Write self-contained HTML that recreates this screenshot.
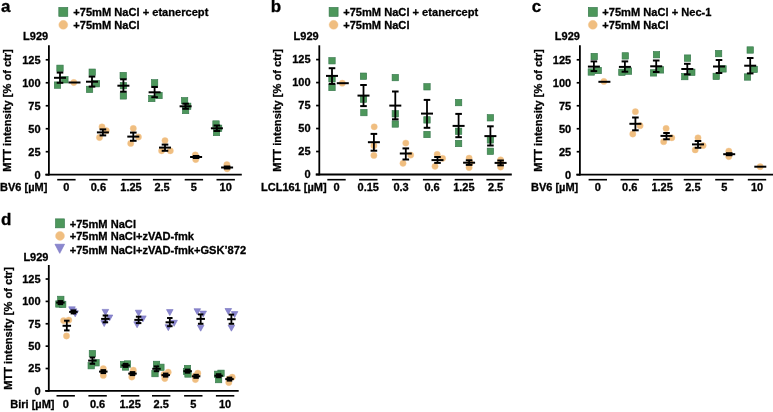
<!DOCTYPE html>
<html><head><meta charset="utf-8"><style>
html,body{margin:0;padding:0;background:#fff;}
body{width:773px;height:412px;overflow:hidden;}
svg{display:block;filter:blur(0.35px);}
</style></head><body>
<svg width="773" height="412" viewBox="0 0 773 412">
<rect width="773" height="412" fill="#fff"/>
<g font-family='"Liberation Sans", sans-serif' font-weight="bold" fill="#000">
<text x="1.00" y="11.50" font-size="17" text-anchor="start" stroke="#000" stroke-width="0.3">a</text>
<rect x="58.80" y="7.40" width="9.00" height="9.00" fill="#4d975b" stroke="#33744a" stroke-width="0.6"/>
<text x="73.30" y="15.70" font-size="11.1" text-anchor="start" stroke="#000" stroke-width="0.3">+75mM NaCl + etanercept</text>
<circle cx="63.30" cy="24.85" r="4.50" fill="#f0be80" stroke="#f3c892" stroke-width="0.4"/>
<text x="73.30" y="28.70" font-size="11.1" text-anchor="start" stroke="#000" stroke-width="0.3">+75mM NaCl</text>
<text x="23.10" y="40.00" font-size="11" text-anchor="start" stroke="#000" stroke-width="0.3">L929</text>
<line x1="48.90" y1="45.30" x2="48.90" y2="175.60" stroke="#000" stroke-width="1.8"/>
<line x1="45.70" y1="174.70" x2="48.90" y2="174.70" stroke="#000" stroke-width="1.7"/>
<text x="40.60" y="178.50" font-size="11" text-anchor="end" stroke="#000" stroke-width="0.3">0</text>
<line x1="45.70" y1="151.72" x2="48.90" y2="151.72" stroke="#000" stroke-width="1.7"/>
<text x="40.60" y="155.52" font-size="11" text-anchor="end" stroke="#000" stroke-width="0.3">25</text>
<line x1="45.70" y1="128.74" x2="48.90" y2="128.74" stroke="#000" stroke-width="1.7"/>
<text x="40.60" y="132.54" font-size="11" text-anchor="end" stroke="#000" stroke-width="0.3">50</text>
<line x1="45.70" y1="105.76" x2="48.90" y2="105.76" stroke="#000" stroke-width="1.7"/>
<text x="40.60" y="109.56" font-size="11" text-anchor="end" stroke="#000" stroke-width="0.3">75</text>
<line x1="45.70" y1="82.78" x2="48.90" y2="82.78" stroke="#000" stroke-width="1.7"/>
<text x="40.60" y="86.58" font-size="11" text-anchor="end" stroke="#000" stroke-width="0.3">100</text>
<line x1="45.70" y1="59.80" x2="48.90" y2="59.80" stroke="#000" stroke-width="1.7"/>
<text x="40.60" y="63.60" font-size="11" text-anchor="end" stroke="#000" stroke-width="0.3">125</text>
<line x1="45.30" y1="174.70" x2="241.80" y2="174.70" stroke="#000" stroke-width="1.8"/>
<text x="0" y="0" font-size="11.1" text-anchor="middle" stroke="#000" stroke-width="0.3" transform="translate(11.20,110.50) rotate(-90)">MTT intensity [% of ctr]</text>
<text x="0.10" y="191.40" font-size="11" text-anchor="start" stroke="#000" stroke-width="0.3">BV6 [µM]</text>
<line x1="57.20" y1="179.70" x2="75.60" y2="179.70" stroke="#000" stroke-width="1.6"/>
<text x="66.40" y="191.40" font-size="11" text-anchor="middle" stroke="#000" stroke-width="0.3">0</text>
<line x1="89.20" y1="179.70" x2="107.60" y2="179.70" stroke="#000" stroke-width="1.6"/>
<text x="98.40" y="191.40" font-size="11" text-anchor="middle" stroke="#000" stroke-width="0.3">0.6</text>
<line x1="121.80" y1="179.70" x2="140.20" y2="179.70" stroke="#000" stroke-width="1.6"/>
<text x="131.00" y="191.40" font-size="11" text-anchor="middle" stroke="#000" stroke-width="0.3">1.25</text>
<line x1="152.90" y1="179.70" x2="171.30" y2="179.70" stroke="#000" stroke-width="1.6"/>
<text x="162.10" y="191.40" font-size="11" text-anchor="middle" stroke="#000" stroke-width="0.3">2.5</text>
<line x1="184.70" y1="179.70" x2="203.10" y2="179.70" stroke="#000" stroke-width="1.6"/>
<text x="193.90" y="191.40" font-size="11" text-anchor="middle" stroke="#000" stroke-width="0.3">5</text>
<line x1="216.50" y1="179.70" x2="234.90" y2="179.70" stroke="#000" stroke-width="1.6"/>
<text x="225.70" y="191.40" font-size="11" text-anchor="middle" stroke="#000" stroke-width="0.3">10</text>
<text x="270.70" y="11.50" font-size="17" text-anchor="start" stroke="#000" stroke-width="0.3">b</text>
<rect x="329.10" y="7.40" width="9.00" height="9.00" fill="#4d975b" stroke="#33744a" stroke-width="0.6"/>
<text x="343.20" y="15.70" font-size="11.1" text-anchor="start" stroke="#000" stroke-width="0.3">+75mM NaCl + etanercept</text>
<circle cx="333.60" cy="24.85" r="4.50" fill="#f0be80" stroke="#f3c892" stroke-width="0.4"/>
<text x="343.20" y="28.70" font-size="11.1" text-anchor="start" stroke="#000" stroke-width="0.3">+75mM NaCl</text>
<text x="293.60" y="40.00" font-size="11" text-anchor="start" stroke="#000" stroke-width="0.3">L929</text>
<line x1="319.30" y1="45.30" x2="319.30" y2="175.40" stroke="#000" stroke-width="1.8"/>
<line x1="316.10" y1="174.50" x2="319.30" y2="174.50" stroke="#000" stroke-width="1.7"/>
<text x="310.60" y="178.30" font-size="11" text-anchor="end" stroke="#000" stroke-width="0.3">0</text>
<line x1="316.10" y1="151.52" x2="319.30" y2="151.52" stroke="#000" stroke-width="1.7"/>
<text x="310.60" y="155.32" font-size="11" text-anchor="end" stroke="#000" stroke-width="0.3">25</text>
<line x1="316.10" y1="128.54" x2="319.30" y2="128.54" stroke="#000" stroke-width="1.7"/>
<text x="310.60" y="132.34" font-size="11" text-anchor="end" stroke="#000" stroke-width="0.3">50</text>
<line x1="316.10" y1="105.56" x2="319.30" y2="105.56" stroke="#000" stroke-width="1.7"/>
<text x="310.60" y="109.36" font-size="11" text-anchor="end" stroke="#000" stroke-width="0.3">75</text>
<line x1="316.10" y1="82.58" x2="319.30" y2="82.58" stroke="#000" stroke-width="1.7"/>
<text x="310.60" y="86.38" font-size="11" text-anchor="end" stroke="#000" stroke-width="0.3">100</text>
<line x1="316.10" y1="59.60" x2="319.30" y2="59.60" stroke="#000" stroke-width="1.7"/>
<text x="310.60" y="63.40" font-size="11" text-anchor="end" stroke="#000" stroke-width="0.3">125</text>
<line x1="315.70" y1="174.50" x2="511.80" y2="174.50" stroke="#000" stroke-width="1.8"/>
<text x="0" y="0" font-size="11.1" text-anchor="middle" stroke="#000" stroke-width="0.3" transform="translate(281.30,110.40) rotate(-90)">MTT intensity [% of ctr]</text>
<text x="261.00" y="191.40" font-size="11" text-anchor="start" stroke="#000" stroke-width="0.3">LCL161 [µM]</text>
<line x1="327.30" y1="179.70" x2="345.70" y2="179.70" stroke="#000" stroke-width="1.6"/>
<text x="336.50" y="191.40" font-size="11" text-anchor="middle" stroke="#000" stroke-width="0.3">0</text>
<line x1="359.10" y1="179.70" x2="377.50" y2="179.70" stroke="#000" stroke-width="1.6"/>
<text x="368.30" y="191.40" font-size="11" text-anchor="middle" stroke="#000" stroke-width="0.3">0.15</text>
<line x1="391.90" y1="179.70" x2="410.30" y2="179.70" stroke="#000" stroke-width="1.6"/>
<text x="401.10" y="191.40" font-size="11" text-anchor="middle" stroke="#000" stroke-width="0.3">0.3</text>
<line x1="422.90" y1="179.70" x2="441.30" y2="179.70" stroke="#000" stroke-width="1.6"/>
<text x="432.10" y="191.40" font-size="11" text-anchor="middle" stroke="#000" stroke-width="0.3">0.6</text>
<line x1="454.70" y1="179.70" x2="473.10" y2="179.70" stroke="#000" stroke-width="1.6"/>
<text x="463.90" y="191.40" font-size="11" text-anchor="middle" stroke="#000" stroke-width="0.3">1.25</text>
<line x1="486.40" y1="179.70" x2="504.80" y2="179.70" stroke="#000" stroke-width="1.6"/>
<text x="495.60" y="191.40" font-size="11" text-anchor="middle" stroke="#000" stroke-width="0.3">2.5</text>
<text x="531.80" y="11.50" font-size="17" text-anchor="start" stroke="#000" stroke-width="0.3">c</text>
<rect x="588.30" y="7.40" width="9.00" height="9.00" fill="#4d975b" stroke="#33744a" stroke-width="0.6"/>
<text x="602.30" y="15.70" font-size="11.1" text-anchor="start" stroke="#000" stroke-width="0.3">+75mM NaCl + Nec-1</text>
<circle cx="592.80" cy="24.85" r="4.50" fill="#f0be80" stroke="#f3c892" stroke-width="0.4"/>
<text x="602.30" y="28.70" font-size="11.1" text-anchor="start" stroke="#000" stroke-width="0.3">+75mM NaCl</text>
<text x="554.80" y="40.00" font-size="11" text-anchor="start" stroke="#000" stroke-width="0.3">L929</text>
<line x1="579.90" y1="45.30" x2="579.90" y2="175.60" stroke="#000" stroke-width="1.8"/>
<line x1="576.70" y1="174.70" x2="579.90" y2="174.70" stroke="#000" stroke-width="1.7"/>
<text x="571.20" y="178.50" font-size="11" text-anchor="end" stroke="#000" stroke-width="0.3">0</text>
<line x1="576.70" y1="151.72" x2="579.90" y2="151.72" stroke="#000" stroke-width="1.7"/>
<text x="571.20" y="155.52" font-size="11" text-anchor="end" stroke="#000" stroke-width="0.3">25</text>
<line x1="576.70" y1="128.74" x2="579.90" y2="128.74" stroke="#000" stroke-width="1.7"/>
<text x="571.20" y="132.54" font-size="11" text-anchor="end" stroke="#000" stroke-width="0.3">50</text>
<line x1="576.70" y1="105.76" x2="579.90" y2="105.76" stroke="#000" stroke-width="1.7"/>
<text x="571.20" y="109.56" font-size="11" text-anchor="end" stroke="#000" stroke-width="0.3">75</text>
<line x1="576.70" y1="82.78" x2="579.90" y2="82.78" stroke="#000" stroke-width="1.7"/>
<text x="571.20" y="86.58" font-size="11" text-anchor="end" stroke="#000" stroke-width="0.3">100</text>
<line x1="576.70" y1="59.80" x2="579.90" y2="59.80" stroke="#000" stroke-width="1.7"/>
<text x="571.20" y="63.60" font-size="11" text-anchor="end" stroke="#000" stroke-width="0.3">125</text>
<line x1="576.30" y1="174.70" x2="773.00" y2="174.70" stroke="#000" stroke-width="1.8"/>
<text x="0" y="0" font-size="11.1" text-anchor="middle" stroke="#000" stroke-width="0.3" transform="translate(542.20,110.50) rotate(-90)">MTT intensity [% of ctr]</text>
<text x="531.00" y="191.40" font-size="11" text-anchor="start" stroke="#000" stroke-width="0.3">BV6 [µM]</text>
<line x1="588.60" y1="179.70" x2="607.00" y2="179.70" stroke="#000" stroke-width="1.6"/>
<text x="597.80" y="191.40" font-size="11" text-anchor="middle" stroke="#000" stroke-width="0.3">0</text>
<line x1="620.50" y1="179.70" x2="638.90" y2="179.70" stroke="#000" stroke-width="1.6"/>
<text x="629.70" y="191.40" font-size="11" text-anchor="middle" stroke="#000" stroke-width="0.3">0.6</text>
<line x1="652.90" y1="179.70" x2="671.30" y2="179.70" stroke="#000" stroke-width="1.6"/>
<text x="662.10" y="191.40" font-size="11" text-anchor="middle" stroke="#000" stroke-width="0.3">1.25</text>
<line x1="683.70" y1="179.70" x2="702.10" y2="179.70" stroke="#000" stroke-width="1.6"/>
<text x="692.90" y="191.40" font-size="11" text-anchor="middle" stroke="#000" stroke-width="0.3">2.5</text>
<line x1="715.20" y1="179.70" x2="733.60" y2="179.70" stroke="#000" stroke-width="1.6"/>
<text x="724.40" y="191.40" font-size="11" text-anchor="middle" stroke="#000" stroke-width="0.3">5</text>
<line x1="747.80" y1="179.70" x2="766.20" y2="179.70" stroke="#000" stroke-width="1.6"/>
<text x="757.00" y="191.40" font-size="11" text-anchor="middle" stroke="#000" stroke-width="0.3">10</text>
<text x="0.90" y="224.90" font-size="17" text-anchor="start" stroke="#000" stroke-width="0.3">d</text>
<rect x="55.50" y="218.85" width="9.00" height="9.00" fill="#4d975b" stroke="#33744a" stroke-width="0.6"/>
<text x="69.70" y="227.50" font-size="11.1" text-anchor="start" stroke="#000" stroke-width="0.3">+75mM NaCl</text>
<circle cx="60.00" cy="235.90" r="4.50" fill="#f0be80" stroke="#f3c892" stroke-width="0.4"/>
<text x="69.70" y="240.40" font-size="11.1" text-anchor="start" stroke="#000" stroke-width="0.3">+75mM NaCl+zVAD-fmk</text>
<path d="M54.95,244.24L64.55,244.24L59.75,253.36Z" fill="#8b87cf" stroke="#7470bd" stroke-width="0.6"/>
<text x="69.70" y="253.50" font-size="11.1" text-anchor="start" stroke="#000" stroke-width="0.3">+75mM NaCl+zVAD-fmk+GSK’872</text>
<text x="23.40" y="261.00" font-size="11" text-anchor="start" stroke="#000" stroke-width="0.3">L929</text>
<line x1="48.80" y1="265.00" x2="48.80" y2="391.80" stroke="#000" stroke-width="1.8"/>
<line x1="45.60" y1="390.90" x2="48.80" y2="390.90" stroke="#000" stroke-width="1.7"/>
<text x="40.60" y="394.70" font-size="11" text-anchor="end" stroke="#000" stroke-width="0.3">0</text>
<line x1="45.60" y1="368.52" x2="48.80" y2="368.52" stroke="#000" stroke-width="1.7"/>
<text x="40.60" y="372.32" font-size="11" text-anchor="end" stroke="#000" stroke-width="0.3">25</text>
<line x1="45.60" y1="346.15" x2="48.80" y2="346.15" stroke="#000" stroke-width="1.7"/>
<text x="40.60" y="349.95" font-size="11" text-anchor="end" stroke="#000" stroke-width="0.3">50</text>
<line x1="45.60" y1="323.77" x2="48.80" y2="323.77" stroke="#000" stroke-width="1.7"/>
<text x="40.60" y="327.57" font-size="11" text-anchor="end" stroke="#000" stroke-width="0.3">75</text>
<line x1="45.60" y1="301.40" x2="48.80" y2="301.40" stroke="#000" stroke-width="1.7"/>
<text x="40.60" y="305.20" font-size="11" text-anchor="end" stroke="#000" stroke-width="0.3">100</text>
<line x1="45.60" y1="279.02" x2="48.80" y2="279.02" stroke="#000" stroke-width="1.7"/>
<text x="40.60" y="282.82" font-size="11" text-anchor="end" stroke="#000" stroke-width="0.3">125</text>
<line x1="45.20" y1="390.90" x2="238.70" y2="390.90" stroke="#000" stroke-width="1.8"/>
<text x="0" y="0" font-size="11.1" text-anchor="middle" stroke="#000" stroke-width="0.3" transform="translate(11.60,328.45) rotate(-90)">MTT intensity [% of ctr]</text>
<text x="10.30" y="408.30" font-size="11" text-anchor="start" stroke="#000" stroke-width="0.3">Biri [µM]</text>
<line x1="56.50" y1="395.80" x2="74.90" y2="395.80" stroke="#000" stroke-width="1.6"/>
<text x="65.70" y="408.30" font-size="11" text-anchor="middle" stroke="#000" stroke-width="0.3">0</text>
<line x1="88.40" y1="395.80" x2="106.80" y2="395.80" stroke="#000" stroke-width="1.6"/>
<text x="97.60" y="408.30" font-size="11" text-anchor="middle" stroke="#000" stroke-width="0.3">0.6</text>
<line x1="120.90" y1="395.80" x2="139.30" y2="395.80" stroke="#000" stroke-width="1.6"/>
<text x="130.10" y="408.30" font-size="11" text-anchor="middle" stroke="#000" stroke-width="0.3">1.25</text>
<line x1="152.00" y1="395.80" x2="170.40" y2="395.80" stroke="#000" stroke-width="1.6"/>
<text x="161.20" y="408.30" font-size="11" text-anchor="middle" stroke="#000" stroke-width="0.3">2.5</text>
<line x1="184.10" y1="395.80" x2="202.50" y2="395.80" stroke="#000" stroke-width="1.6"/>
<text x="193.30" y="408.30" font-size="11" text-anchor="middle" stroke="#000" stroke-width="0.3">5</text>
<line x1="215.90" y1="395.80" x2="234.30" y2="395.80" stroke="#000" stroke-width="1.6"/>
<text x="225.10" y="408.30" font-size="11" text-anchor="middle" stroke="#000" stroke-width="0.3">10</text>
<rect x="56.80" y="65.10" width="6.40" height="6.40" fill="#4d975b" stroke="#33744a" stroke-width="0.6"/>
<rect x="61.70" y="76.60" width="6.40" height="6.40" fill="#4d975b" stroke="#33744a" stroke-width="0.6"/>
<rect x="54.30" y="81.90" width="6.40" height="6.40" fill="#4d975b" stroke="#33744a" stroke-width="0.6"/>
<rect x="89.00" y="69.00" width="6.40" height="6.40" fill="#4d975b" stroke="#33744a" stroke-width="0.6"/>
<rect x="93.20" y="80.50" width="6.40" height="6.40" fill="#4d975b" stroke="#33744a" stroke-width="0.6"/>
<rect x="86.35" y="86.20" width="6.40" height="6.40" fill="#4d975b" stroke="#33744a" stroke-width="0.6"/>
<rect x="120.00" y="72.30" width="6.40" height="6.40" fill="#4d975b" stroke="#33744a" stroke-width="0.6"/>
<rect x="120.20" y="82.50" width="6.40" height="6.40" fill="#4d975b" stroke="#33744a" stroke-width="0.6"/>
<rect x="120.20" y="92.70" width="6.40" height="6.40" fill="#4d975b" stroke="#33744a" stroke-width="0.6"/>
<rect x="151.40" y="79.60" width="6.40" height="6.40" fill="#4d975b" stroke="#33744a" stroke-width="0.6"/>
<rect x="155.80" y="92.30" width="6.40" height="6.40" fill="#4d975b" stroke="#33744a" stroke-width="0.6"/>
<rect x="148.60" y="95.30" width="6.40" height="6.40" fill="#4d975b" stroke="#33744a" stroke-width="0.6"/>
<rect x="181.40" y="97.50" width="6.40" height="6.40" fill="#4d975b" stroke="#33744a" stroke-width="0.6"/>
<rect x="184.50" y="103.10" width="6.40" height="6.40" fill="#4d975b" stroke="#33744a" stroke-width="0.6"/>
<rect x="182.40" y="107.30" width="6.40" height="6.40" fill="#4d975b" stroke="#33744a" stroke-width="0.6"/>
<rect x="212.80" y="120.80" width="6.40" height="6.40" fill="#4d975b" stroke="#33744a" stroke-width="0.6"/>
<rect x="215.40" y="125.10" width="6.40" height="6.40" fill="#4d975b" stroke="#33744a" stroke-width="0.6"/>
<rect x="213.30" y="129.30" width="6.40" height="6.40" fill="#4d975b" stroke="#33744a" stroke-width="0.6"/>
<circle cx="73.80" cy="82.50" r="3.15" fill="#f0be80" stroke="#f3c892" stroke-width="0.4"/>
<circle cx="102.00" cy="126.90" r="3.15" fill="#f0be80" stroke="#f3c892" stroke-width="0.4"/>
<circle cx="106.30" cy="130.70" r="3.15" fill="#f0be80" stroke="#f3c892" stroke-width="0.4"/>
<circle cx="99.50" cy="137.50" r="3.15" fill="#f0be80" stroke="#f3c892" stroke-width="0.4"/>
<circle cx="133.30" cy="128.50" r="3.15" fill="#f0be80" stroke="#f3c892" stroke-width="0.4"/>
<circle cx="138.40" cy="137.00" r="3.15" fill="#f0be80" stroke="#f3c892" stroke-width="0.4"/>
<circle cx="130.70" cy="143.40" r="3.15" fill="#f0be80" stroke="#f3c892" stroke-width="0.4"/>
<circle cx="165.00" cy="140.60" r="3.15" fill="#f0be80" stroke="#f3c892" stroke-width="0.4"/>
<circle cx="170.30" cy="150.80" r="3.15" fill="#f0be80" stroke="#f3c892" stroke-width="0.4"/>
<circle cx="161.60" cy="150.80" r="3.15" fill="#f0be80" stroke="#f3c892" stroke-width="0.4"/>
<circle cx="195.30" cy="154.90" r="3.15" fill="#f0be80" stroke="#f3c892" stroke-width="0.4"/>
<circle cx="195.70" cy="159.50" r="3.15" fill="#f0be80" stroke="#f3c892" stroke-width="0.4"/>
<circle cx="196.00" cy="157.00" r="3.15" fill="#f0be80" stroke="#f3c892" stroke-width="0.4"/>
<circle cx="226.90" cy="164.60" r="3.15" fill="#f0be80" stroke="#f3c892" stroke-width="0.4"/>
<circle cx="227.10" cy="168.80" r="3.15" fill="#f0be80" stroke="#f3c892" stroke-width="0.4"/>
<circle cx="227.00" cy="167.00" r="3.15" fill="#f0be80" stroke="#f3c892" stroke-width="0.4"/>
<rect x="328.80" y="57.55" width="6.40" height="6.40" fill="#4d975b" stroke="#33744a" stroke-width="0.6"/>
<rect x="328.80" y="75.60" width="6.40" height="6.40" fill="#4d975b" stroke="#33744a" stroke-width="0.6"/>
<rect x="328.80" y="84.30" width="6.40" height="6.40" fill="#4d975b" stroke="#33744a" stroke-width="0.6"/>
<rect x="360.30" y="73.00" width="6.40" height="6.40" fill="#4d975b" stroke="#33744a" stroke-width="0.6"/>
<rect x="360.30" y="96.00" width="6.40" height="6.40" fill="#4d975b" stroke="#33744a" stroke-width="0.6"/>
<rect x="360.70" y="109.40" width="6.40" height="6.40" fill="#4d975b" stroke="#33744a" stroke-width="0.6"/>
<rect x="392.10" y="74.40" width="6.40" height="6.40" fill="#4d975b" stroke="#33744a" stroke-width="0.6"/>
<rect x="392.10" y="110.60" width="6.40" height="6.40" fill="#4d975b" stroke="#33744a" stroke-width="0.6"/>
<rect x="392.10" y="120.80" width="6.40" height="6.40" fill="#4d975b" stroke="#33744a" stroke-width="0.6"/>
<rect x="423.80" y="83.60" width="6.40" height="6.40" fill="#4d975b" stroke="#33744a" stroke-width="0.6"/>
<rect x="423.80" y="116.70" width="6.40" height="6.40" fill="#4d975b" stroke="#33744a" stroke-width="0.6"/>
<rect x="423.80" y="131.30" width="6.40" height="6.40" fill="#4d975b" stroke="#33744a" stroke-width="0.6"/>
<rect x="455.40" y="99.40" width="6.40" height="6.40" fill="#4d975b" stroke="#33744a" stroke-width="0.6"/>
<rect x="455.40" y="128.10" width="6.40" height="6.40" fill="#4d975b" stroke="#33744a" stroke-width="0.6"/>
<rect x="455.40" y="140.30" width="6.40" height="6.40" fill="#4d975b" stroke="#33744a" stroke-width="0.6"/>
<rect x="487.20" y="114.60" width="6.40" height="6.40" fill="#4d975b" stroke="#33744a" stroke-width="0.6"/>
<rect x="487.20" y="136.70" width="6.40" height="6.40" fill="#4d975b" stroke="#33744a" stroke-width="0.6"/>
<rect x="487.20" y="148.10" width="6.40" height="6.40" fill="#4d975b" stroke="#33744a" stroke-width="0.6"/>
<circle cx="342.30" cy="83.20" r="3.15" fill="#f0be80" stroke="#f3c892" stroke-width="0.4"/>
<circle cx="374.20" cy="126.80" r="3.15" fill="#f0be80" stroke="#f3c892" stroke-width="0.4"/>
<circle cx="373.90" cy="145.70" r="3.15" fill="#f0be80" stroke="#f3c892" stroke-width="0.4"/>
<circle cx="373.90" cy="155.40" r="3.15" fill="#f0be80" stroke="#f3c892" stroke-width="0.4"/>
<circle cx="405.80" cy="143.10" r="3.15" fill="#f0be80" stroke="#f3c892" stroke-width="0.4"/>
<circle cx="410.70" cy="155.10" r="3.15" fill="#f0be80" stroke="#f3c892" stroke-width="0.4"/>
<circle cx="403.00" cy="163.30" r="3.15" fill="#f0be80" stroke="#f3c892" stroke-width="0.4"/>
<circle cx="437.20" cy="154.40" r="3.15" fill="#f0be80" stroke="#f3c892" stroke-width="0.4"/>
<circle cx="442.60" cy="158.30" r="3.15" fill="#f0be80" stroke="#f3c892" stroke-width="0.4"/>
<circle cx="435.00" cy="166.30" r="3.15" fill="#f0be80" stroke="#f3c892" stroke-width="0.4"/>
<circle cx="469.10" cy="158.10" r="3.15" fill="#f0be80" stroke="#f3c892" stroke-width="0.4"/>
<circle cx="470.20" cy="162.90" r="3.15" fill="#f0be80" stroke="#f3c892" stroke-width="0.4"/>
<circle cx="469.10" cy="167.60" r="3.15" fill="#f0be80" stroke="#f3c892" stroke-width="0.4"/>
<circle cx="500.60" cy="159.80" r="3.15" fill="#f0be80" stroke="#f3c892" stroke-width="0.4"/>
<circle cx="500.60" cy="163.00" r="3.15" fill="#f0be80" stroke="#f3c892" stroke-width="0.4"/>
<circle cx="500.60" cy="167.10" r="3.15" fill="#f0be80" stroke="#f3c892" stroke-width="0.4"/>
<rect x="591.00" y="53.30" width="6.40" height="6.40" fill="#4d975b" stroke="#33744a" stroke-width="0.6"/>
<rect x="595.00" y="67.30" width="6.40" height="6.40" fill="#4d975b" stroke="#33744a" stroke-width="0.6"/>
<rect x="588.10" y="68.80" width="6.40" height="6.40" fill="#4d975b" stroke="#33744a" stroke-width="0.6"/>
<rect x="622.10" y="52.70" width="6.40" height="6.40" fill="#4d975b" stroke="#33744a" stroke-width="0.6"/>
<rect x="625.30" y="67.90" width="6.40" height="6.40" fill="#4d975b" stroke="#33744a" stroke-width="0.6"/>
<rect x="618.70" y="69.10" width="6.40" height="6.40" fill="#4d975b" stroke="#33744a" stroke-width="0.6"/>
<rect x="653.30" y="51.50" width="6.40" height="6.40" fill="#4d975b" stroke="#33744a" stroke-width="0.6"/>
<rect x="657.30" y="66.70" width="6.40" height="6.40" fill="#4d975b" stroke="#33744a" stroke-width="0.6"/>
<rect x="650.30" y="69.70" width="6.40" height="6.40" fill="#4d975b" stroke="#33744a" stroke-width="0.6"/>
<rect x="684.30" y="54.90" width="6.40" height="6.40" fill="#4d975b" stroke="#33744a" stroke-width="0.6"/>
<rect x="688.60" y="69.10" width="6.40" height="6.40" fill="#4d975b" stroke="#33744a" stroke-width="0.6"/>
<rect x="681.60" y="73.40" width="6.40" height="6.40" fill="#4d975b" stroke="#33744a" stroke-width="0.6"/>
<rect x="715.40" y="50.40" width="6.40" height="6.40" fill="#4d975b" stroke="#33744a" stroke-width="0.6"/>
<rect x="719.80" y="65.70" width="6.40" height="6.40" fill="#4d975b" stroke="#33744a" stroke-width="0.6"/>
<rect x="713.00" y="73.20" width="6.40" height="6.40" fill="#4d975b" stroke="#33744a" stroke-width="0.6"/>
<rect x="747.00" y="46.80" width="6.40" height="6.40" fill="#4d975b" stroke="#33744a" stroke-width="0.6"/>
<rect x="751.00" y="66.20" width="6.40" height="6.40" fill="#4d975b" stroke="#33744a" stroke-width="0.6"/>
<rect x="744.30" y="73.80" width="6.40" height="6.40" fill="#4d975b" stroke="#33744a" stroke-width="0.6"/>
<circle cx="603.90" cy="81.40" r="3.15" fill="#f0be80" stroke="#f3c892" stroke-width="0.4"/>
<circle cx="635.40" cy="111.70" r="3.15" fill="#f0be80" stroke="#f3c892" stroke-width="0.4"/>
<circle cx="640.10" cy="125.70" r="3.15" fill="#f0be80" stroke="#f3c892" stroke-width="0.4"/>
<circle cx="632.80" cy="134.00" r="3.15" fill="#f0be80" stroke="#f3c892" stroke-width="0.4"/>
<circle cx="666.10" cy="128.40" r="3.15" fill="#f0be80" stroke="#f3c892" stroke-width="0.4"/>
<circle cx="671.80" cy="137.80" r="3.15" fill="#f0be80" stroke="#f3c892" stroke-width="0.4"/>
<circle cx="663.70" cy="141.70" r="3.15" fill="#f0be80" stroke="#f3c892" stroke-width="0.4"/>
<circle cx="698.00" cy="137.80" r="3.15" fill="#f0be80" stroke="#f3c892" stroke-width="0.4"/>
<circle cx="703.10" cy="145.60" r="3.15" fill="#f0be80" stroke="#f3c892" stroke-width="0.4"/>
<circle cx="695.20" cy="149.90" r="3.15" fill="#f0be80" stroke="#f3c892" stroke-width="0.4"/>
<circle cx="728.80" cy="151.10" r="3.15" fill="#f0be80" stroke="#f3c892" stroke-width="0.4"/>
<circle cx="728.80" cy="156.60" r="3.15" fill="#f0be80" stroke="#f3c892" stroke-width="0.4"/>
<circle cx="729.00" cy="154.00" r="3.15" fill="#f0be80" stroke="#f3c892" stroke-width="0.4"/>
<circle cx="760.20" cy="166.70" r="3.15" fill="#f0be80" stroke="#f3c892" stroke-width="0.4"/>
<rect x="57.60" y="296.20" width="6.40" height="6.40" fill="#4d975b" stroke="#33744a" stroke-width="0.6"/>
<rect x="55.70" y="300.80" width="6.40" height="6.40" fill="#4d975b" stroke="#33744a" stroke-width="0.6"/>
<rect x="59.50" y="301.20" width="6.40" height="6.40" fill="#4d975b" stroke="#33744a" stroke-width="0.6"/>
<rect x="89.20" y="350.40" width="6.40" height="6.40" fill="#4d975b" stroke="#33744a" stroke-width="0.6"/>
<rect x="92.80" y="359.60" width="6.40" height="6.40" fill="#4d975b" stroke="#33744a" stroke-width="0.6"/>
<rect x="88.00" y="362.50" width="6.40" height="6.40" fill="#4d975b" stroke="#33744a" stroke-width="0.6"/>
<rect x="120.30" y="361.30" width="6.40" height="6.40" fill="#4d975b" stroke="#33744a" stroke-width="0.6"/>
<rect x="124.30" y="360.80" width="6.40" height="6.40" fill="#4d975b" stroke="#33744a" stroke-width="0.6"/>
<rect x="122.30" y="363.80" width="6.40" height="6.40" fill="#4d975b" stroke="#33744a" stroke-width="0.6"/>
<rect x="153.30" y="361.20" width="6.40" height="6.40" fill="#4d975b" stroke="#33744a" stroke-width="0.6"/>
<rect x="157.70" y="364.10" width="6.40" height="6.40" fill="#4d975b" stroke="#33744a" stroke-width="0.6"/>
<rect x="151.80" y="370.40" width="6.40" height="6.40" fill="#4d975b" stroke="#33744a" stroke-width="0.6"/>
<rect x="184.30" y="365.30" width="6.40" height="6.40" fill="#4d975b" stroke="#33744a" stroke-width="0.6"/>
<rect x="183.30" y="368.30" width="6.40" height="6.40" fill="#4d975b" stroke="#33744a" stroke-width="0.6"/>
<rect x="184.80" y="370.80" width="6.40" height="6.40" fill="#4d975b" stroke="#33744a" stroke-width="0.6"/>
<rect x="217.80" y="370.10" width="6.40" height="6.40" fill="#4d975b" stroke="#33744a" stroke-width="0.6"/>
<rect x="214.40" y="371.10" width="6.40" height="6.40" fill="#4d975b" stroke="#33744a" stroke-width="0.6"/>
<rect x="215.40" y="376.40" width="6.40" height="6.40" fill="#4d975b" stroke="#33744a" stroke-width="0.6"/>
<circle cx="63.60" cy="320.60" r="3.15" fill="#f0be80" stroke="#f3c892" stroke-width="0.4"/>
<circle cx="68.80" cy="320.10" r="3.15" fill="#f0be80" stroke="#f3c892" stroke-width="0.4"/>
<circle cx="66.50" cy="336.00" r="3.15" fill="#f0be80" stroke="#f3c892" stroke-width="0.4"/>
<circle cx="103.30" cy="368.60" r="3.15" fill="#f0be80" stroke="#f3c892" stroke-width="0.4"/>
<circle cx="103.30" cy="375.40" r="3.15" fill="#f0be80" stroke="#f3c892" stroke-width="0.4"/>
<circle cx="103.30" cy="371.60" r="3.15" fill="#f0be80" stroke="#f3c892" stroke-width="0.4"/>
<circle cx="133.30" cy="370.20" r="3.15" fill="#f0be80" stroke="#f3c892" stroke-width="0.4"/>
<circle cx="131.80" cy="377.00" r="3.15" fill="#f0be80" stroke="#f3c892" stroke-width="0.4"/>
<circle cx="132.50" cy="373.60" r="3.15" fill="#f0be80" stroke="#f3c892" stroke-width="0.4"/>
<circle cx="168.20" cy="372.20" r="3.15" fill="#f0be80" stroke="#f3c892" stroke-width="0.4"/>
<circle cx="164.80" cy="378.50" r="3.15" fill="#f0be80" stroke="#f3c892" stroke-width="0.4"/>
<circle cx="164.00" cy="374.50" r="3.15" fill="#f0be80" stroke="#f3c892" stroke-width="0.4"/>
<circle cx="197.80" cy="373.20" r="3.15" fill="#f0be80" stroke="#f3c892" stroke-width="0.4"/>
<circle cx="195.40" cy="379.50" r="3.15" fill="#f0be80" stroke="#f3c892" stroke-width="0.4"/>
<circle cx="195.00" cy="376.00" r="3.15" fill="#f0be80" stroke="#f3c892" stroke-width="0.4"/>
<circle cx="232.20" cy="377.20" r="3.15" fill="#f0be80" stroke="#f3c892" stroke-width="0.4"/>
<circle cx="228.80" cy="382.50" r="3.15" fill="#f0be80" stroke="#f3c892" stroke-width="0.4"/>
<circle cx="229.00" cy="379.00" r="3.15" fill="#f0be80" stroke="#f3c892" stroke-width="0.4"/>
<path d="M68.70,306.80L75.30,306.80L72.00,312.80Z" fill="#8b87cf" stroke="#7470bd" stroke-width="0.6"/>
<path d="M71.90,310.80L78.50,310.80L75.20,316.80Z" fill="#8b87cf" stroke="#7470bd" stroke-width="0.6"/>
<path d="M70.20,308.80L76.80,308.80L73.50,314.80Z" fill="#8b87cf" stroke="#7470bd" stroke-width="0.6"/>
<path d="M102.10,309.40L108.70,309.40L105.40,315.40Z" fill="#8b87cf" stroke="#7470bd" stroke-width="0.6"/>
<path d="M106.20,315.00L112.80,315.00L109.50,321.00Z" fill="#8b87cf" stroke="#7470bd" stroke-width="0.6"/>
<path d="M100.90,320.60L107.50,320.60L104.20,326.60Z" fill="#8b87cf" stroke="#7470bd" stroke-width="0.6"/>
<path d="M135.30,310.20L141.90,310.20L138.60,316.20Z" fill="#8b87cf" stroke="#7470bd" stroke-width="0.6"/>
<path d="M139.60,315.90L146.20,315.90L142.90,321.90Z" fill="#8b87cf" stroke="#7470bd" stroke-width="0.6"/>
<path d="M133.80,321.80L140.40,321.80L137.10,327.80Z" fill="#8b87cf" stroke="#7470bd" stroke-width="0.6"/>
<path d="M166.50,309.60L173.10,309.60L169.80,315.60Z" fill="#8b87cf" stroke="#7470bd" stroke-width="0.6"/>
<path d="M170.80,320.30L177.40,320.30L174.10,326.30Z" fill="#8b87cf" stroke="#7470bd" stroke-width="0.6"/>
<path d="M165.00,324.70L171.60,324.70L168.30,330.70Z" fill="#8b87cf" stroke="#7470bd" stroke-width="0.6"/>
<path d="M194.00,308.70L200.60,308.70L197.30,314.70Z" fill="#8b87cf" stroke="#7470bd" stroke-width="0.6"/>
<path d="M199.90,311.10L206.50,311.10L203.20,317.10Z" fill="#8b87cf" stroke="#7470bd" stroke-width="0.6"/>
<path d="M197.40,325.20L204.00,325.20L200.70,331.20Z" fill="#8b87cf" stroke="#7470bd" stroke-width="0.6"/>
<path d="M225.00,308.50L231.60,308.50L228.30,314.50Z" fill="#8b87cf" stroke="#7470bd" stroke-width="0.6"/>
<path d="M231.30,311.60L237.90,311.60L234.60,317.60Z" fill="#8b87cf" stroke="#7470bd" stroke-width="0.6"/>
<path d="M228.10,325.20L234.70,325.20L231.40,331.20Z" fill="#8b87cf" stroke="#7470bd" stroke-width="0.6"/>
<line x1="60.00" y1="72.60" x2="60.00" y2="82.80" stroke="#000" stroke-width="1.8"/>
<line x1="56.70" y1="72.60" x2="63.30" y2="72.60" stroke="#000" stroke-width="2.0"/>
<line x1="56.70" y1="82.80" x2="63.30" y2="82.80" stroke="#000" stroke-width="2.0"/>
<line x1="54.00" y1="77.80" x2="66.00" y2="77.80" stroke="#000" stroke-width="2.0"/>
<line x1="92.00" y1="76.60" x2="92.00" y2="86.60" stroke="#000" stroke-width="1.8"/>
<line x1="88.70" y1="76.60" x2="95.30" y2="76.60" stroke="#000" stroke-width="2.0"/>
<line x1="88.70" y1="86.60" x2="95.30" y2="86.60" stroke="#000" stroke-width="2.0"/>
<line x1="86.00" y1="81.70" x2="98.00" y2="81.70" stroke="#000" stroke-width="2.0"/>
<line x1="123.40" y1="79.30" x2="123.40" y2="91.70" stroke="#000" stroke-width="1.8"/>
<line x1="120.10" y1="79.30" x2="126.70" y2="79.30" stroke="#000" stroke-width="2.0"/>
<line x1="120.10" y1="91.70" x2="126.70" y2="91.70" stroke="#000" stroke-width="2.0"/>
<line x1="117.40" y1="85.70" x2="129.40" y2="85.70" stroke="#000" stroke-width="2.0"/>
<line x1="154.60" y1="87.00" x2="154.60" y2="97.20" stroke="#000" stroke-width="1.8"/>
<line x1="151.30" y1="87.00" x2="157.90" y2="87.00" stroke="#000" stroke-width="2.0"/>
<line x1="151.30" y1="97.20" x2="157.90" y2="97.20" stroke="#000" stroke-width="2.0"/>
<line x1="148.60" y1="92.30" x2="160.60" y2="92.30" stroke="#000" stroke-width="2.0"/>
<line x1="185.60" y1="103.70" x2="185.60" y2="108.80" stroke="#000" stroke-width="1.8"/>
<line x1="182.30" y1="103.70" x2="188.90" y2="103.70" stroke="#000" stroke-width="2.0"/>
<line x1="182.30" y1="108.80" x2="188.90" y2="108.80" stroke="#000" stroke-width="2.0"/>
<line x1="179.60" y1="106.30" x2="191.60" y2="106.30" stroke="#000" stroke-width="2.0"/>
<line x1="216.90" y1="125.50" x2="216.90" y2="131.00" stroke="#000" stroke-width="1.8"/>
<line x1="213.60" y1="125.50" x2="220.20" y2="125.50" stroke="#000" stroke-width="2.0"/>
<line x1="213.60" y1="131.00" x2="220.20" y2="131.00" stroke="#000" stroke-width="2.0"/>
<line x1="210.90" y1="128.30" x2="222.90" y2="128.30" stroke="#000" stroke-width="2.0"/>
<line x1="68.50" y1="82.50" x2="80.50" y2="82.50" stroke="#000" stroke-width="2.0"/>
<line x1="102.90" y1="129.40" x2="102.90" y2="135.40" stroke="#000" stroke-width="1.8"/>
<line x1="99.60" y1="129.40" x2="106.20" y2="129.40" stroke="#000" stroke-width="2.0"/>
<line x1="99.60" y1="135.40" x2="106.20" y2="135.40" stroke="#000" stroke-width="2.0"/>
<line x1="96.90" y1="132.40" x2="108.90" y2="132.40" stroke="#000" stroke-width="2.0"/>
<line x1="133.30" y1="132.60" x2="133.30" y2="140.80" stroke="#000" stroke-width="1.8"/>
<line x1="130.00" y1="132.60" x2="136.60" y2="132.60" stroke="#000" stroke-width="2.0"/>
<line x1="130.00" y1="140.80" x2="136.60" y2="140.80" stroke="#000" stroke-width="2.0"/>
<line x1="127.30" y1="136.60" x2="139.30" y2="136.60" stroke="#000" stroke-width="2.0"/>
<line x1="165.00" y1="144.60" x2="165.00" y2="150.80" stroke="#000" stroke-width="1.8"/>
<line x1="161.70" y1="144.60" x2="168.30" y2="144.60" stroke="#000" stroke-width="2.0"/>
<line x1="161.70" y1="150.80" x2="168.30" y2="150.80" stroke="#000" stroke-width="2.0"/>
<line x1="159.00" y1="147.60" x2="171.00" y2="147.60" stroke="#000" stroke-width="2.0"/>
<line x1="196.10" y1="156.00" x2="196.10" y2="158.00" stroke="#000" stroke-width="1.8"/>
<line x1="192.80" y1="156.00" x2="199.40" y2="156.00" stroke="#000" stroke-width="2.0"/>
<line x1="192.80" y1="158.00" x2="199.40" y2="158.00" stroke="#000" stroke-width="2.0"/>
<line x1="190.10" y1="157.00" x2="202.10" y2="157.00" stroke="#000" stroke-width="2.0"/>
<line x1="227.10" y1="166.50" x2="227.10" y2="168.50" stroke="#000" stroke-width="1.8"/>
<line x1="223.80" y1="166.50" x2="230.40" y2="166.50" stroke="#000" stroke-width="2.0"/>
<line x1="223.80" y1="168.50" x2="230.40" y2="168.50" stroke="#000" stroke-width="2.0"/>
<line x1="221.10" y1="167.50" x2="233.10" y2="167.50" stroke="#000" stroke-width="2.0"/>
<line x1="332.00" y1="68.20" x2="332.00" y2="83.90" stroke="#000" stroke-width="1.8"/>
<line x1="328.70" y1="68.20" x2="335.30" y2="68.20" stroke="#000" stroke-width="2.0"/>
<line x1="328.70" y1="83.90" x2="335.30" y2="83.90" stroke="#000" stroke-width="2.0"/>
<line x1="326.00" y1="75.90" x2="338.00" y2="75.90" stroke="#000" stroke-width="2.0"/>
<line x1="363.50" y1="85.00" x2="363.50" y2="106.10" stroke="#000" stroke-width="1.8"/>
<line x1="360.20" y1="85.00" x2="366.80" y2="85.00" stroke="#000" stroke-width="2.0"/>
<line x1="360.20" y1="106.10" x2="366.80" y2="106.10" stroke="#000" stroke-width="2.0"/>
<line x1="357.50" y1="95.60" x2="369.50" y2="95.60" stroke="#000" stroke-width="2.0"/>
<line x1="395.30" y1="91.50" x2="395.30" y2="119.30" stroke="#000" stroke-width="1.8"/>
<line x1="392.00" y1="91.50" x2="398.60" y2="91.50" stroke="#000" stroke-width="2.0"/>
<line x1="392.00" y1="119.30" x2="398.60" y2="119.30" stroke="#000" stroke-width="2.0"/>
<line x1="389.30" y1="105.60" x2="401.30" y2="105.60" stroke="#000" stroke-width="2.0"/>
<line x1="427.00" y1="99.90" x2="427.00" y2="127.80" stroke="#000" stroke-width="1.8"/>
<line x1="423.70" y1="99.90" x2="430.30" y2="99.90" stroke="#000" stroke-width="2.0"/>
<line x1="423.70" y1="127.80" x2="430.30" y2="127.80" stroke="#000" stroke-width="2.0"/>
<line x1="421.00" y1="113.60" x2="433.00" y2="113.60" stroke="#000" stroke-width="2.0"/>
<line x1="458.60" y1="113.90" x2="458.60" y2="137.20" stroke="#000" stroke-width="1.8"/>
<line x1="455.30" y1="113.90" x2="461.90" y2="113.90" stroke="#000" stroke-width="2.0"/>
<line x1="455.30" y1="137.20" x2="461.90" y2="137.20" stroke="#000" stroke-width="2.0"/>
<line x1="452.60" y1="125.90" x2="464.60" y2="125.90" stroke="#000" stroke-width="2.0"/>
<line x1="490.40" y1="126.30" x2="490.40" y2="145.50" stroke="#000" stroke-width="1.8"/>
<line x1="487.10" y1="126.30" x2="493.70" y2="126.30" stroke="#000" stroke-width="2.0"/>
<line x1="487.10" y1="145.50" x2="493.70" y2="145.50" stroke="#000" stroke-width="2.0"/>
<line x1="484.40" y1="136.10" x2="496.40" y2="136.10" stroke="#000" stroke-width="2.0"/>
<line x1="336.80" y1="83.20" x2="348.80" y2="83.20" stroke="#000" stroke-width="2.0"/>
<line x1="373.90" y1="133.90" x2="373.90" y2="150.70" stroke="#000" stroke-width="1.8"/>
<line x1="370.60" y1="133.90" x2="377.20" y2="133.90" stroke="#000" stroke-width="2.0"/>
<line x1="370.60" y1="150.70" x2="377.20" y2="150.70" stroke="#000" stroke-width="2.0"/>
<line x1="367.90" y1="142.20" x2="379.90" y2="142.20" stroke="#000" stroke-width="2.0"/>
<line x1="405.80" y1="148.40" x2="405.80" y2="159.50" stroke="#000" stroke-width="1.8"/>
<line x1="402.50" y1="148.40" x2="409.10" y2="148.40" stroke="#000" stroke-width="2.0"/>
<line x1="402.50" y1="159.50" x2="409.10" y2="159.50" stroke="#000" stroke-width="2.0"/>
<line x1="399.80" y1="153.50" x2="411.80" y2="153.50" stroke="#000" stroke-width="2.0"/>
<line x1="437.50" y1="157.00" x2="437.50" y2="162.90" stroke="#000" stroke-width="1.8"/>
<line x1="434.20" y1="157.00" x2="440.80" y2="157.00" stroke="#000" stroke-width="2.0"/>
<line x1="434.20" y1="162.90" x2="440.80" y2="162.90" stroke="#000" stroke-width="2.0"/>
<line x1="431.50" y1="160.10" x2="443.50" y2="160.10" stroke="#000" stroke-width="2.0"/>
<line x1="469.10" y1="160.30" x2="469.10" y2="164.90" stroke="#000" stroke-width="1.8"/>
<line x1="465.80" y1="160.30" x2="472.40" y2="160.30" stroke="#000" stroke-width="2.0"/>
<line x1="465.80" y1="164.90" x2="472.40" y2="164.90" stroke="#000" stroke-width="2.0"/>
<line x1="463.10" y1="162.70" x2="475.10" y2="162.70" stroke="#000" stroke-width="2.0"/>
<line x1="500.60" y1="160.50" x2="500.60" y2="165.30" stroke="#000" stroke-width="1.8"/>
<line x1="497.30" y1="160.50" x2="503.90" y2="160.50" stroke="#000" stroke-width="2.0"/>
<line x1="497.30" y1="165.30" x2="503.90" y2="165.30" stroke="#000" stroke-width="2.0"/>
<line x1="494.60" y1="162.90" x2="506.60" y2="162.90" stroke="#000" stroke-width="2.0"/>
<line x1="593.90" y1="61.40" x2="593.90" y2="71.10" stroke="#000" stroke-width="1.8"/>
<line x1="590.60" y1="61.40" x2="597.20" y2="61.40" stroke="#000" stroke-width="2.0"/>
<line x1="590.60" y1="71.10" x2="597.20" y2="71.10" stroke="#000" stroke-width="2.0"/>
<line x1="587.90" y1="66.60" x2="599.90" y2="66.60" stroke="#000" stroke-width="2.0"/>
<line x1="624.90" y1="61.40" x2="624.90" y2="71.70" stroke="#000" stroke-width="1.8"/>
<line x1="621.60" y1="61.40" x2="628.20" y2="61.40" stroke="#000" stroke-width="2.0"/>
<line x1="621.60" y1="71.70" x2="628.20" y2="71.70" stroke="#000" stroke-width="2.0"/>
<line x1="618.90" y1="66.90" x2="630.90" y2="66.90" stroke="#000" stroke-width="2.0"/>
<line x1="656.20" y1="60.50" x2="656.20" y2="72.00" stroke="#000" stroke-width="1.8"/>
<line x1="652.90" y1="60.50" x2="659.50" y2="60.50" stroke="#000" stroke-width="2.0"/>
<line x1="652.90" y1="72.00" x2="659.50" y2="72.00" stroke="#000" stroke-width="2.0"/>
<line x1="650.20" y1="66.30" x2="662.20" y2="66.30" stroke="#000" stroke-width="2.0"/>
<line x1="687.30" y1="63.80" x2="687.30" y2="74.40" stroke="#000" stroke-width="1.8"/>
<line x1="684.00" y1="63.80" x2="690.60" y2="63.80" stroke="#000" stroke-width="2.0"/>
<line x1="684.00" y1="74.40" x2="690.60" y2="74.40" stroke="#000" stroke-width="2.0"/>
<line x1="681.30" y1="69.00" x2="693.30" y2="69.00" stroke="#000" stroke-width="2.0"/>
<line x1="719.00" y1="60.00" x2="719.00" y2="73.00" stroke="#000" stroke-width="1.8"/>
<line x1="715.70" y1="60.00" x2="722.30" y2="60.00" stroke="#000" stroke-width="2.0"/>
<line x1="715.70" y1="73.00" x2="722.30" y2="73.00" stroke="#000" stroke-width="2.0"/>
<line x1="713.00" y1="66.50" x2="725.00" y2="66.50" stroke="#000" stroke-width="2.0"/>
<line x1="750.20" y1="58.00" x2="750.20" y2="73.40" stroke="#000" stroke-width="1.8"/>
<line x1="746.90" y1="58.00" x2="753.50" y2="58.00" stroke="#000" stroke-width="2.0"/>
<line x1="746.90" y1="73.40" x2="753.50" y2="73.40" stroke="#000" stroke-width="2.0"/>
<line x1="744.20" y1="65.70" x2="756.20" y2="65.70" stroke="#000" stroke-width="2.0"/>
<line x1="598.40" y1="81.80" x2="610.40" y2="81.80" stroke="#000" stroke-width="2.0"/>
<line x1="635.40" y1="117.50" x2="635.40" y2="130.30" stroke="#000" stroke-width="1.8"/>
<line x1="632.10" y1="117.50" x2="638.70" y2="117.50" stroke="#000" stroke-width="2.0"/>
<line x1="632.10" y1="130.30" x2="638.70" y2="130.30" stroke="#000" stroke-width="2.0"/>
<line x1="629.40" y1="123.80" x2="641.40" y2="123.80" stroke="#000" stroke-width="2.0"/>
<line x1="666.50" y1="133.00" x2="666.50" y2="139.30" stroke="#000" stroke-width="1.8"/>
<line x1="663.20" y1="133.00" x2="669.80" y2="133.00" stroke="#000" stroke-width="2.0"/>
<line x1="663.20" y1="139.30" x2="669.80" y2="139.30" stroke="#000" stroke-width="2.0"/>
<line x1="660.50" y1="135.90" x2="672.50" y2="135.90" stroke="#000" stroke-width="2.0"/>
<line x1="698.00" y1="141.00" x2="698.00" y2="147.80" stroke="#000" stroke-width="1.8"/>
<line x1="694.70" y1="141.00" x2="701.30" y2="141.00" stroke="#000" stroke-width="2.0"/>
<line x1="694.70" y1="147.80" x2="701.30" y2="147.80" stroke="#000" stroke-width="2.0"/>
<line x1="692.00" y1="144.40" x2="704.00" y2="144.40" stroke="#000" stroke-width="2.0"/>
<line x1="729.20" y1="153.20" x2="729.20" y2="155.20" stroke="#000" stroke-width="1.8"/>
<line x1="725.90" y1="153.20" x2="732.50" y2="153.20" stroke="#000" stroke-width="2.0"/>
<line x1="725.90" y1="155.20" x2="732.50" y2="155.20" stroke="#000" stroke-width="2.0"/>
<line x1="723.20" y1="154.20" x2="735.20" y2="154.20" stroke="#000" stroke-width="2.0"/>
<line x1="754.30" y1="166.70" x2="766.30" y2="166.70" stroke="#000" stroke-width="2.0"/>
<line x1="60.40" y1="301.10" x2="60.40" y2="304.10" stroke="#000" stroke-width="1.8"/>
<line x1="57.65" y1="301.10" x2="63.15" y2="301.10" stroke="#000" stroke-width="2.0"/>
<line x1="57.65" y1="304.10" x2="63.15" y2="304.10" stroke="#000" stroke-width="2.0"/>
<line x1="56.15" y1="302.60" x2="64.65" y2="302.60" stroke="#000" stroke-width="2.0"/>
<line x1="92.40" y1="357.50" x2="92.40" y2="363.80" stroke="#000" stroke-width="1.8"/>
<line x1="89.65" y1="357.50" x2="95.15" y2="357.50" stroke="#000" stroke-width="2.0"/>
<line x1="89.65" y1="363.80" x2="95.15" y2="363.80" stroke="#000" stroke-width="2.0"/>
<line x1="88.15" y1="360.60" x2="96.65" y2="360.60" stroke="#000" stroke-width="2.0"/>
<line x1="125.60" y1="363.90" x2="125.60" y2="366.90" stroke="#000" stroke-width="1.8"/>
<line x1="122.85" y1="363.90" x2="128.35" y2="363.90" stroke="#000" stroke-width="2.0"/>
<line x1="122.85" y1="366.90" x2="128.35" y2="366.90" stroke="#000" stroke-width="2.0"/>
<line x1="121.35" y1="365.40" x2="129.85" y2="365.40" stroke="#000" stroke-width="2.0"/>
<line x1="156.50" y1="366.40" x2="156.50" y2="371.20" stroke="#000" stroke-width="1.8"/>
<line x1="153.75" y1="366.40" x2="159.25" y2="366.40" stroke="#000" stroke-width="2.0"/>
<line x1="153.75" y1="371.20" x2="159.25" y2="371.20" stroke="#000" stroke-width="2.0"/>
<line x1="152.25" y1="368.80" x2="160.75" y2="368.80" stroke="#000" stroke-width="2.0"/>
<line x1="187.60" y1="369.70" x2="187.60" y2="372.70" stroke="#000" stroke-width="1.8"/>
<line x1="184.85" y1="369.70" x2="190.35" y2="369.70" stroke="#000" stroke-width="2.0"/>
<line x1="184.85" y1="372.70" x2="190.35" y2="372.70" stroke="#000" stroke-width="2.0"/>
<line x1="183.35" y1="371.20" x2="191.85" y2="371.20" stroke="#000" stroke-width="2.0"/>
<line x1="218.60" y1="374.20" x2="218.60" y2="377.20" stroke="#000" stroke-width="1.8"/>
<line x1="215.85" y1="374.20" x2="221.35" y2="374.20" stroke="#000" stroke-width="2.0"/>
<line x1="215.85" y1="377.20" x2="221.35" y2="377.20" stroke="#000" stroke-width="2.0"/>
<line x1="214.35" y1="375.70" x2="222.85" y2="375.70" stroke="#000" stroke-width="2.0"/>
<line x1="66.80" y1="320.70" x2="66.80" y2="330.40" stroke="#000" stroke-width="1.8"/>
<line x1="64.05" y1="320.70" x2="69.55" y2="320.70" stroke="#000" stroke-width="2.0"/>
<line x1="64.05" y1="330.40" x2="69.55" y2="330.40" stroke="#000" stroke-width="2.0"/>
<line x1="62.55" y1="325.80" x2="71.05" y2="325.80" stroke="#000" stroke-width="2.0"/>
<line x1="103.30" y1="370.10" x2="103.30" y2="373.10" stroke="#000" stroke-width="1.8"/>
<line x1="100.55" y1="370.10" x2="106.05" y2="370.10" stroke="#000" stroke-width="2.0"/>
<line x1="100.55" y1="373.10" x2="106.05" y2="373.10" stroke="#000" stroke-width="2.0"/>
<line x1="99.05" y1="371.60" x2="107.55" y2="371.60" stroke="#000" stroke-width="2.0"/>
<line x1="132.50" y1="372.10" x2="132.50" y2="375.10" stroke="#000" stroke-width="1.8"/>
<line x1="129.75" y1="372.10" x2="135.25" y2="372.10" stroke="#000" stroke-width="2.0"/>
<line x1="129.75" y1="375.10" x2="135.25" y2="375.10" stroke="#000" stroke-width="2.0"/>
<line x1="128.25" y1="373.60" x2="136.75" y2="373.60" stroke="#000" stroke-width="2.0"/>
<line x1="165.70" y1="373.60" x2="165.70" y2="376.60" stroke="#000" stroke-width="1.8"/>
<line x1="162.95" y1="373.60" x2="168.45" y2="373.60" stroke="#000" stroke-width="2.0"/>
<line x1="162.95" y1="376.60" x2="168.45" y2="376.60" stroke="#000" stroke-width="2.0"/>
<line x1="161.45" y1="375.10" x2="169.95" y2="375.10" stroke="#000" stroke-width="2.0"/>
<line x1="196.10" y1="374.80" x2="196.10" y2="377.80" stroke="#000" stroke-width="1.8"/>
<line x1="193.35" y1="374.80" x2="198.85" y2="374.80" stroke="#000" stroke-width="2.0"/>
<line x1="193.35" y1="377.80" x2="198.85" y2="377.80" stroke="#000" stroke-width="2.0"/>
<line x1="191.85" y1="376.30" x2="200.35" y2="376.30" stroke="#000" stroke-width="2.0"/>
<line x1="229.50" y1="377.60" x2="229.50" y2="380.60" stroke="#000" stroke-width="1.8"/>
<line x1="226.75" y1="377.60" x2="232.25" y2="377.60" stroke="#000" stroke-width="2.0"/>
<line x1="226.75" y1="380.60" x2="232.25" y2="380.60" stroke="#000" stroke-width="2.0"/>
<line x1="225.25" y1="379.10" x2="233.75" y2="379.10" stroke="#000" stroke-width="2.0"/>
<line x1="73.40" y1="310.40" x2="73.40" y2="313.40" stroke="#000" stroke-width="1.8"/>
<line x1="70.65" y1="310.40" x2="76.15" y2="310.40" stroke="#000" stroke-width="2.0"/>
<line x1="70.65" y1="313.40" x2="76.15" y2="313.40" stroke="#000" stroke-width="2.0"/>
<line x1="69.15" y1="311.90" x2="77.65" y2="311.90" stroke="#000" stroke-width="2.0"/>
<line x1="105.40" y1="315.50" x2="105.40" y2="322.30" stroke="#000" stroke-width="1.8"/>
<line x1="102.65" y1="315.50" x2="108.15" y2="315.50" stroke="#000" stroke-width="2.0"/>
<line x1="102.65" y1="322.30" x2="108.15" y2="322.30" stroke="#000" stroke-width="2.0"/>
<line x1="101.15" y1="318.90" x2="109.65" y2="318.90" stroke="#000" stroke-width="2.0"/>
<line x1="138.60" y1="316.70" x2="138.60" y2="323.10" stroke="#000" stroke-width="1.8"/>
<line x1="135.85" y1="316.70" x2="141.35" y2="316.70" stroke="#000" stroke-width="2.0"/>
<line x1="135.85" y1="323.10" x2="141.35" y2="323.10" stroke="#000" stroke-width="2.0"/>
<line x1="134.35" y1="319.90" x2="142.85" y2="319.90" stroke="#000" stroke-width="2.0"/>
<line x1="169.80" y1="318.00" x2="169.80" y2="326.20" stroke="#000" stroke-width="1.8"/>
<line x1="167.05" y1="318.00" x2="172.55" y2="318.00" stroke="#000" stroke-width="2.0"/>
<line x1="167.05" y1="326.20" x2="172.55" y2="326.20" stroke="#000" stroke-width="2.0"/>
<line x1="165.55" y1="322.30" x2="174.05" y2="322.30" stroke="#000" stroke-width="2.0"/>
<line x1="200.70" y1="314.40" x2="200.70" y2="323.80" stroke="#000" stroke-width="1.8"/>
<line x1="197.95" y1="314.40" x2="203.45" y2="314.40" stroke="#000" stroke-width="2.0"/>
<line x1="197.95" y1="323.80" x2="203.45" y2="323.80" stroke="#000" stroke-width="2.0"/>
<line x1="196.45" y1="318.90" x2="204.95" y2="318.90" stroke="#000" stroke-width="2.0"/>
<line x1="231.40" y1="314.60" x2="231.40" y2="323.80" stroke="#000" stroke-width="1.8"/>
<line x1="228.65" y1="314.60" x2="234.15" y2="314.60" stroke="#000" stroke-width="2.0"/>
<line x1="228.65" y1="323.80" x2="234.15" y2="323.80" stroke="#000" stroke-width="2.0"/>
<line x1="227.15" y1="319.20" x2="235.65" y2="319.20" stroke="#000" stroke-width="2.0"/>
</g>
</svg>
</body></html>
